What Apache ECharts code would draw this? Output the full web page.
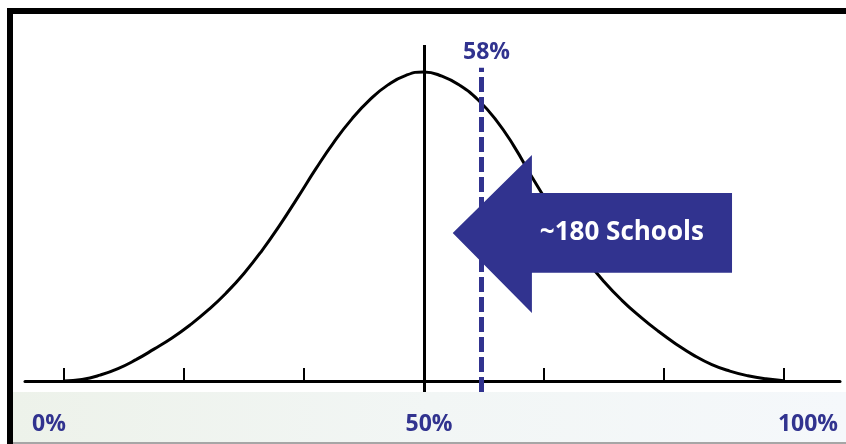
<!DOCTYPE html>
<html><head><meta charset="utf-8">
<script src="https://cdn.jsdelivr.net/npm/echarts@6/dist/echarts.min.js"></script>
<style>html,body{margin:0;padding:0;background:#fff;overflow:hidden}#c{width:846px;height:444px}</style>
</head><body><div id="c"></div>
<script>
// Distribution curve: x = percent, y = relative frequency (peak = 100)
const curveX = [0, 2.5, 5, 7.5, 10, 12.5, 15, 17.5, 20, 22.5, 25, 27.5, 30, 32.5, 35, 37.5, 40, 42.5, 45, 47.5, 50, 52.5, 55, 57.5, 60, 62.5, 65, 67.5, 70, 72.5, 75, 77.5, 80, 82.5, 85, 87.5, 90, 92.5, 95, 97.5, 100];
const curveY = [0, 0.5, 1.9, 4, 6.9, 10.3, 13.9, 18.1, 22.9, 28.4, 34.8, 42.2, 50.5, 59.5, 68.7, 77.3, 84.8, 91, 95.8, 98.9, 100, 98.6, 95.6, 91, 84.5, 76, 66, 56.5, 47.5, 39.3, 32.2, 26.1, 20.9, 16.2, 12, 8.3, 5.3, 3.2, 1.7, 0.7, 0.1];
const tickValues = [0, 16.667, 33.333, 50, 66.667, 83.333, 100];
const bottomLabels = ['0%', '50%', '100%'];
const meanValue = 50;
const schoolValue = 58;
const schoolLabel = '58%';
const arrowText = '~180 Schools';

const yMin = -3.56, yMax = 108.7;
const blue = '#31338f';
const chart = echarts.init(document.getElementById('c'), null, {renderer: 'canvas'});

const labelFont = 'bold 23px "Open Sans"';
const labelPos = [49, 429, 808];

chart.setOption({
  animation: false,
  grid: {left: 25, right: 6, top: 45, bottom: 52},
  xAxis: {
    type: 'value', min: -5.42, max: 107.8,
    axisLine: {onZero: true, lineStyle: {color: '#000', width: 3}},
    axisTick: {show: true, inside: true, length: 13, customValues: tickValues, lineStyle: {color: '#000', width: 2}},
    axisLabel: {show: false},
    splitLine: {show: false}
  },
  yAxis: {
    type: 'value', min: yMin, max: yMax, show: false,
    splitLine: {show: false}
  },
  graphic: [
    {type: 'rect', z: -10, shape: {x: 13, y: 392, width: 833, height: 52},
      style: {fill: new echarts.graphic.LinearGradient(0, 0, 1, 0, [
        {offset: 0, color: '#edf2ea'}, {offset: 0.5, color: '#f2f6f5'}, {offset: 1, color: '#f5f8fb'}])}},
    {type: 'rect', z: 10, shape: {x: 13, y: 442, width: 833, height: 2}, style: {fill: '#a6a6a6'}},
    {type: 'rect', z: 10, shape: {x: 7, y: 8, width: 839, height: 6}, style: {fill: '#000'}},
    {type: 'rect', z: 10, shape: {x: 7, y: 8, width: 6, height: 436}, style: {fill: '#000'}},
    ...bottomLabels.map((t, i) => ({
      type: 'text', z: 10, x: labelPos[i], y: 424,
      style: {text: t, font: labelFont, fill: blue, align: 'center', verticalAlign: 'middle'}
    }))
  ],
  series: [
    {
      type: 'line', z: 2, silent: true,
      data: curveX.map((x, i) => [x, curveY[i]]),
      smooth: 0.5, showSymbol: false,
      lineStyle: {color: '#000', width: 3}
    },
    {
      type: 'custom', z: 4, silent: true,
      data: [[50, 50]],
      renderItem: function (params, api) {
        const shape = [[54.0, 47.9], [65, 73.1], [65, 60.8], [92.8, 60.8], [92.8, 35.0], [65, 35.0], [65, 22.0]];
        const pts = shape.map(p => api.coord(p));
        const c = api.coord([77.5, 47.9]);
        return {
          type: 'group', children: [
            {type: 'polygon', shape: {points: pts}, style: {fill: blue}},
            {type: 'text', x: c[0], y: c[1], style: {text: arrowText, fill: '#fff', font: 'bold 26px "Open Sans"', align: 'center', verticalAlign: 'middle'}}
          ]
        };
      }
    },
    {
      type: 'line', z: 6, data: [], silent: true,
      markLine: {
        silent: true, symbol: 'none', animation: false,
        data: [
          [{coord: [meanValue, yMin], lineStyle: {color: '#000', width: 3, type: 'solid'}, label: {show: false}},
           {coord: [meanValue, yMax]}],
          [{coord: [schoolValue, yMin], lineStyle: {color: blue, width: 5, type: [15, 5]},
            label: {show: true, position: 'end', formatter: schoolLabel, color: blue,
              fontFamily: 'Open Sans', fontWeight: 'bold', fontSize: 23, distance: 4, offset: [5, 0]}},
           {coord: [schoolValue, 101.3]}]
        ]
      }
    }
  ]
});
</script></body></html>
